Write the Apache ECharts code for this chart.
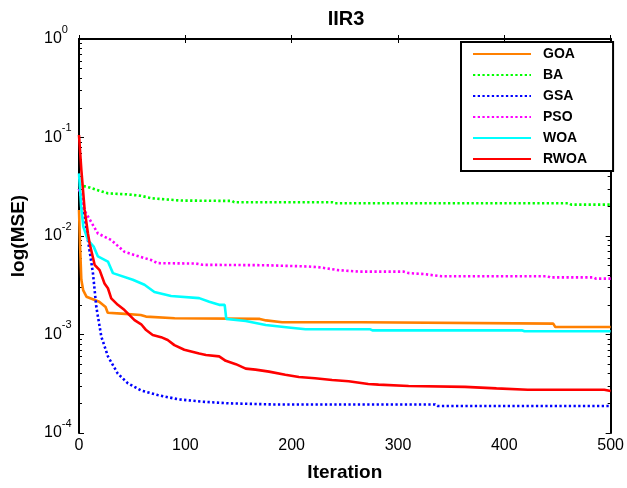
<!DOCTYPE html>
<html>
<head>
<meta charset="utf-8">
<script src="https://cdn.jsdelivr.net/npm/echarts@6/dist/echarts.min.js"></script>
<style>html,body{margin:0;padding:0;background:#fff}#c{width:627px;height:488px}</style>
</head>
<body>
<div id="c"></div>
<script>
// ---- data ----
const seriesNames = ['GOA', 'BA', 'GSA', 'PSO', 'WOA', 'RWOA'];
const xTicks = [0, 100, 200, 300, 400, 500];
const yTickExponents = [-4, -3, -2, -1, 0];

const goaIter = [0, 1, 2.2, 4, 7, 19, 25, 27, 40, 58, 63, 90, 170, 176, 191, 266, 267, 446, 448, 500];
const goaMSE  = [0.0184, 0.008, 0.0036, 0.0028, 0.00242, 0.00215, 0.0019, 0.00166, 0.00163, 0.00158, 0.00152, 0.00146, 0.00144, 0.00139, 0.00133, 0.00133, 0.00129, 0.00129, 0.00119, 0.00119];

const baIter = [0, 10, 27, 45, 58, 69, 96, 144, 146, 238, 240, 461, 463, 500];
const baMSE  = [0.033, 0.031, 0.0271, 0.0265, 0.0256, 0.0241, 0.0229, 0.0227, 0.022, 0.022, 0.0215, 0.0215, 0.0208, 0.0208];

const gsaIter = [0, 4, 8.4, 13.1, 16.3, 21, 27.2, 36.5, 45.9, 58.5, 74, 93, 116, 141, 182, 335, 337, 500];
const gsaMSE  = [0.030, 0.02, 0.0091, 0.0042, 0.0019, 0.00095, 0.0006, 0.0004, 0.00032, 0.00027, 0.000243, 0.00022, 0.000208, 0.0002, 0.000195, 0.000195, 0.000188, 0.000188];

const psoIter = [0, 5.3, 17.8, 30.3, 42.8, 52.2, 67.8, 74, 110, 116, 175, 216, 225, 244, 263, 305, 310, 325, 341, 441, 443, 484, 486, 500];
const psoMSE  = [0.03, 0.018, 0.0106, 0.0091, 0.0069, 0.0064, 0.0057, 0.0053, 0.00525, 0.0051, 0.00505, 0.0049, 0.00483, 0.0045, 0.00435, 0.00435, 0.0042, 0.0041, 0.0039, 0.0039, 0.0038, 0.0038, 0.00369, 0.00369];

const woaIter = [0, 2, 4, 8.4, 13.8, 17.8, 27.2, 31.9, 50.6, 61.6, 70.9, 86.6, 113, 122.5, 131.8, 137, 138.5, 156.8, 175.6, 197, 213, 274, 276, 417, 419, 500];
const woaMSE  = [0.0433, 0.02, 0.0125, 0.0091, 0.0078, 0.0062, 0.0055, 0.0042, 0.0036, 0.0032, 0.0027, 0.00246, 0.00234, 0.00215, 0.002, 0.002, 0.00144, 0.00137, 0.00125, 0.00118, 0.00113, 0.00113, 0.0011, 0.0011, 0.00108, 0.00108];

const rwoaIter = [0, 2.2, 5.3, 8.4, 10, 14.7, 19.4, 24, 27.2, 30.3, 36.5, 42.8, 52.2, 58.5, 63.1, 69.3, 77.2, 83.4, 89.7, 99, 113, 119.4, 131.8, 138, 147.5, 156.8, 166, 178.7, 194, 206.8, 222, 238, 253.6, 272, 281.7, 310, 363, 392.6, 422, 494, 500];
const rwoaMSE  = [0.106, 0.047, 0.0184, 0.0106, 0.0084, 0.0051, 0.0045, 0.0033, 0.00295, 0.00233, 0.002, 0.00177, 0.0014, 0.00127, 0.00111, 0.00099, 0.00094, 0.00088, 0.00078, 0.0007, 0.00064, 0.00062, 0.0006, 0.00054, 0.0005, 0.00045, 0.00044, 0.00042, 0.00039, 0.00037, 0.00036, 0.000345, 0.000335, 0.000314, 0.00031, 0.0003, 0.000294, 0.000284, 0.000275, 0.000275, 0.000267];

// ---- styles ----
const FONT = '"Liberation Sans", Arial, sans-serif';
const colors = ['#FF8000', '#00FF00', '#0000FF', '#FF00FF', '#00FFFF', '#FF0000'];
const dotted = [2.3, 2.4];
const lineTypes = ['solid', dotted, dotted, dotted, 'solid', 'solid'];
const iters = [goaIter, baIter, gsaIter, psoIter, woaIter, rwoaIter];
const vals = [goaMSE, baMSE, gsaMSE, psoMSE, woaMSE, rwoaMSE];

const minorTicks = [];
for (let k = yTickExponents[0]; k < yTickExponents[yTickExponents.length - 1]; k++) {
  for (let m = 2; m <= 9; m++) minorTicks.push(k + Math.log10(m));
}

const yMin = Math.pow(10, yTickExponents[0]);
const yMax = Math.pow(10, yTickExponents[yTickExponents.length - 1]);

const chart = echarts.init(document.getElementById('c'), null, {renderer: 'canvas'});

const series = seriesNames.map((name, i) => ({
  name: name,
  type: 'line',
  xAxisIndex: 0,
  yAxisIndex: 0,
  data: iters[i].map((x, j) => [x, vals[i][j]]),
  showSymbol: false,
  symbol: 'none',
  lineStyle: {color: colors[i], width: 2.6, type: lineTypes[i], cap: 'butt'},
  itemStyle: {color: colors[i]},
  z: 2 + i
}));

const axisLine = {show: true, lineStyle: {color: '#000', width: 2}};

chart.setOption({
  animation: false,
  backgroundColor: '#fff',
  title: {
    text: 'IIR3',
    left: 346,
    textAlign: 'center',
    top: 9,
    padding: 0,
    textStyle: {fontFamily: FONT, fontSize: 20, fontWeight: 'bold', color: '#000'}
  },
  legend: {
    data: seriesNames,
    orient: 'vertical',
    left: 461,
    top: 42,
    width: 150,
    itemWidth: 58,
    itemHeight: 14,
    itemGap: 7,
    padding: [5, 26, 5, 11],
    borderColor: '#000',
    borderWidth: 2,
    backgroundColor: '#fff',
    itemStyle: {opacity: 0},
    textStyle: {fontFamily: FONT, fontSize: 14, fontWeight: 'bold', color: '#000', padding: [0, 0, 0, 7]}
  },
  grid: {left: 79, right: 14, top: 39, bottom: 55, containLabel: false},
  xAxis: [
    {
      type: 'value', position: 'bottom',
      min: xTicks[0], max: xTicks[xTicks.length - 1], interval: xTicks[1] - xTicks[0],
      name: 'Iteration', nameLocation: 'middle', nameGap: 30,
      nameTextStyle: {fontFamily: FONT, fontSize: 19, fontWeight: 'bold', color: '#000'},
      axisLine: axisLine,
      axisTick: {show: true, inside: true, length: 4, lineStyle: {color: '#000', width: 1}},
      axisLabel: {fontFamily: FONT, fontSize: 16, color: '#000', margin: 5},
      splitLine: {show: false}
    },
    {
      type: 'value', position: 'top',
      min: xTicks[0], max: xTicks[xTicks.length - 1], interval: xTicks[1] - xTicks[0],
      axisLine: axisLine,
      axisTick: {show: true, inside: true, length: 4, lineStyle: {color: '#000', width: 1}},
      axisLabel: {show: false},
      splitLine: {show: false}
    }
  ],
  yAxis: [
    {
      type: 'log', logBase: 10, position: 'left',
      min: yMin, max: yMax,
      name: 'log(MSE)', nameLocation: 'middle', nameGap: 51,
      nameTextStyle: {fontFamily: FONT, fontSize: 19, fontWeight: 'bold', color: '#000'},
      axisLine: axisLine,
      axisTick: {show: true, inside: true, length: 5, lineStyle: {color: '#000', width: 1}},
      axisLabel: {
        align: 'left',
        margin: 35,
        formatter: v => '{b|10}{e|' + Math.round(Math.log10(v)) + '}',
        rich: {
          b: {fontFamily: FONT, fontSize: 16, color: '#000', padding: [7, 0, 7, 0]},
          e: {fontFamily: FONT, fontSize: 11, color: '#000', verticalAlign: 'top'}
        }
      },
      splitLine: {show: false}
    },
    {
      type: 'value', position: 'left',
      min: yTickExponents[0], max: yTickExponents[yTickExponents.length - 1],
      axisLine: {show: false},
      axisTick: {show: true, inside: true, length: 3, customValues: minorTicks, lineStyle: {color: '#000', width: 1}},
      axisLabel: {show: false},
      splitLine: {show: false}
    },
    {
      type: 'log', logBase: 10, position: 'right',
      min: yMin, max: yMax,
      axisLine: axisLine,
      axisTick: {show: true, inside: true, length: 5, lineStyle: {color: '#000', width: 1}},
      axisLabel: {show: false},
      splitLine: {show: false}
    },
    {
      type: 'value', position: 'right',
      min: yTickExponents[0], max: yTickExponents[yTickExponents.length - 1],
      axisLine: {show: false},
      axisTick: {show: true, inside: true, length: 3, customValues: minorTicks, lineStyle: {color: '#000', width: 1}},
      axisLabel: {show: false},
      splitLine: {show: false}
    }
  ],
  series: series
});
</script>
</body>
</html>
